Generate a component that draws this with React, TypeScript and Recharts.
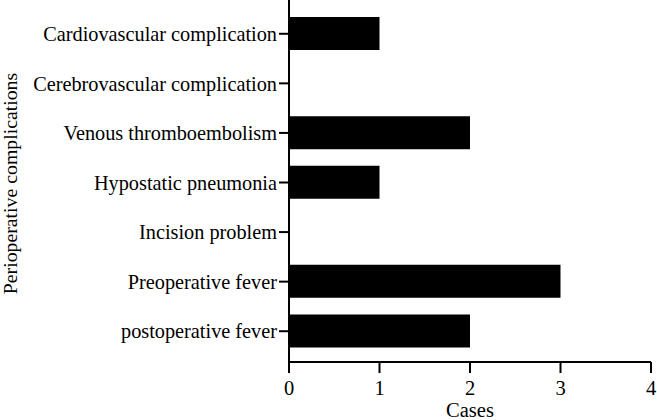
import { BarChart, Bar, XAxis, YAxis, Label } from 'recharts';

const categories = [
  'Cardiovascular complication',
  'Cerebrovascular complication',
  'Venous thromboembolism',
  'Hypostatic pneumonia',
  'Incision problem',
  'Preoperative fever',
  'postoperative fever',
];
const cases = [1, 0, 2, 1, 0, 3, 2];
const xTicks = [0, 1, 2, 3, 4];

const data = categories.map((name, i) => ({ name, cases: cases[i] }));

const FONT = 'Liberation Serif, Times New Roman, serif';

// rotated axis title, baseline on the right side
const YTitle = ({ viewBox }: any) => {
  const x = viewBox.x + 17;
  const y = viewBox.y + viewBox.height / 2 + 2.5;
  return (
    <text
      x={x}
      y={y}
      transform={`rotate(-90, ${x}, ${y})`}
      textAnchor="middle"
      style={{ fontFamily: FONT, fontSize: 19.8 }}
      fill="#000"
    >
      Perioperative complications
    </text>
  );
};

export default function App() {
  return (
    <div style={{ position: 'absolute', left: 0, top: 0, background: '#fff', fontFamily: FONT }}>
      <BarChart
        width={657}
        height={420}
        data={data}
        layout="vertical"
        margin={{ top: 0, right: 6, bottom: 0, left: 0 }}
        style={{ fontFamily: FONT }}
      >
        <XAxis
          type="number"
          domain={[0, 4]}
          ticks={xTicks}
          height={58}
          tickSize={11}
          tickMargin={7}
          axisLine={{ stroke: '#000', strokeWidth: 2 }}
          tickLine={{ stroke: '#000', strokeWidth: 2 }}
          tick={{ fill: '#000', fontSize: 20.5, style: { fontFamily: FONT } }}
        >
          <Label
            value="Cases"
            position="insideBottom"
            offset={3}
            fill="#000"
            fontSize={20.5}
            style={{ fontFamily: FONT }}
          />
        </XAxis>
        <YAxis
          type="category"
          dataKey="name"
          width={289}
          padding={{ top: 9, bottom: 6 }}
          tickSize={10}
          tickMargin={2}
          interval={0}
          axisLine={{ stroke: '#000', strokeWidth: 2 }}
          tickLine={{ stroke: '#000', strokeWidth: 2 }}
          tick={{ fill: '#000', fontSize: 20.3, style: { fontFamily: FONT } }}
          label={<YTitle />}
        />
        <Bar dataKey="cases" fill="#000" barSize={33} isAnimationActive={false} />
      </BarChart>
    </div>
  );
}
